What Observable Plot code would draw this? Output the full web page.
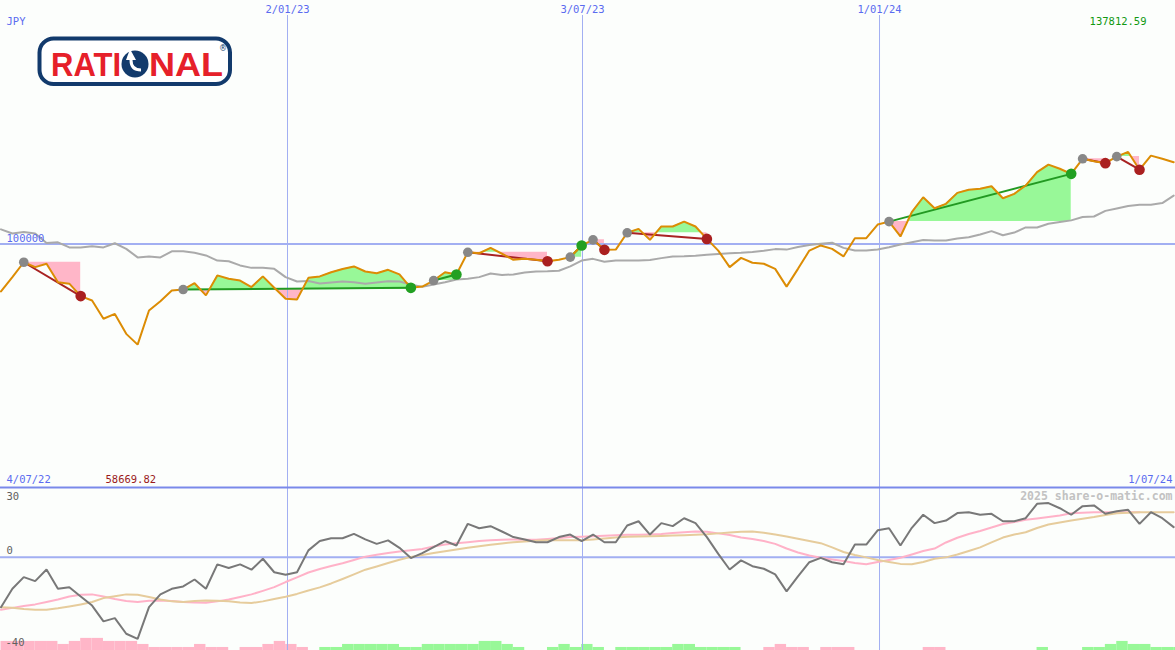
<!DOCTYPE html>
<html><head><meta charset="utf-8">
<script src="https://cdn.jsdelivr.net/npm/d3@7"></script>
<script src="https://cdn.jsdelivr.net/npm/@observablehq/plot@0.6"></script>
<style>
html,body{margin:0;padding:0;background:#fcfefc;}
#wrap{position:relative;width:1175px;height:650px;overflow:hidden;background:#fcfefc;}
#wrap svg{display:block}
</style></head><body><div id="wrap"></div>
<script>
// ---- data (weekly points, index 0..103) ----
const currency = "JPY";
const baseValue = 100000;
const maxLabel = "137812.59";
const minLabel = "58669.82";
const startLabel = "4/07/22";
const endLabel = "1/07/24";
const tickLabels = ["2/01/23", "3/07/23", "1/01/24"];
const tickPos = [25.165, 51.076, 77.163];
const panelTicks = [30, 0, -40];
const watermark = "2025 share-o-matic.com";

const price = [80500,86400,92500,90500,91900,84300,83700,78600,76800,69300,
71300,63100,58669.82,72700,76500,80900,81300,83900,78900,87100,
85700,85000,82300,86700,82000,77500,77200,86100,86700,88400,
89700,90800,88700,88000,89400,87500,82000,82500,85000,88400,
87500,96600,96200,98400,96000,93500,93900,93500,92900,93500,
94600,99400,101700,97600,97700,104600,106200,101700,107200,107200,
109200,107200,102100,97300,90500,94300,92300,91900,89800,82500,
89800,97300,99400,98000,94900,102400,102400,108000,109200,103100,
113100,119200,114700,116500,121000,122300,122700,123700,118800,120600,
124000,129500,132600,130900,128800,135000,134000,133200,135900,137812.59,
130500,136300,135000,133600];

const bench = [106000,104300,104900,104300,100400,100700,98600,98600,99100,98600,
100300,98000,94500,94900,94500,97000,97000,96400,95300,93200,
92900,91200,90200,90200,89800,86400,84600,84800,83800,84200,
84600,84300,83700,84200,84700,84600,83400,82400,83400,84300,
85400,85700,86400,87900,87300,87500,88300,88700,88800,89000,
90800,93200,93900,92700,93200,93200,93200,93400,94200,94900,
95000,95200,95600,95900,96200,96400,96700,97200,97900,97700,
98800,99600,100100,100500,98400,97300,97300,97700,98700,99800,
100700,101600,101400,101400,102300,102800,103900,105300,103600,104700,
106800,106800,108300,109000,109700,111100,111300,113600,114600,115600,
116100,116100,116800,119900];

const tradeEntry = [2,16,38,41,50,52,55,78,95,98];
const tradeExit  = [7,36,40,48,51,53,62,94,97,100];

const rel = [-21.4,-13.5,-8.5,-10.2,-5.2,-13.5,-12.8,-16.8,-20.7,-27.5,
-26.1,-32.8,-35.0,-21.4,-15.9,-13.5,-12.5,-9.5,-13.5,-3.0,
-4.6,-3.0,-5.3,-0.6,-6.4,-7.5,-6.4,3.0,7.0,8.2,
8.2,10.1,7.7,5.8,7.3,4.1,-0.3,1.8,4.4,7.0,
5.1,14.4,12.5,13.4,11.1,8.7,7.7,6.5,6.5,8.7,
9.8,7.0,9.8,6.5,6.5,13.7,15.5,9.8,14.7,13.4,
16.8,14.7,8.7,1.5,-5.2,-1.3,-3.8,-4.9,-7.3,-14.6,
-8.2,-2.1,-0.2,-2.1,-3.0,5.5,5.5,11.6,12.5,5.1,
12.7,18.3,14.7,15.8,19.0,19.4,18.3,18.7,15.5,15.5,
16.8,23.0,23.3,21.1,18.3,22.0,22.3,18.7,19.8,20.4,
14.4,19.4,16.8,13.0];

const maFast = [-22.5,-21.7,-20.9,-20.2,-19.2,-18.1,-16.8,-16.1,-15.9,-16.8,
-17.9,-18.7,-19.2,-18.6,-18.5,-18.7,-19.2,-19.4,-19.5,-18.9,
-18.1,-17.0,-15.9,-14.4,-12.8,-10.6,-8.6,-6.5,-5.0,-3.7,
-2.5,-1.1,0.3,1.1,1.9,2.5,3.1,3.6,4.7,5.5,
6.1,6.5,7.0,7.3,7.6,7.7,7.6,7.6,7.9,8.3,
8.7,8.9,9.1,9.3,9.5,9.7,9.7,9.8,10.0,10.5,
10.8,11.1,11.0,10.3,9.6,8.5,7.9,7.0,5.8,3.8,
2.1,0.8,-0.2,-0.9,-1.6,-2.4,-3.0,-2.0,-1.1,-0.2,
1.2,2.7,3.8,6.4,8.4,10.0,11.3,12.8,14.3,15.2,
16.1,16.7,17.3,18.0,18.9,19.2,19.4,19.4,19.4,19.4,
19.4];

const maSlow = [-21.4,-21.6,-22.2,-22.5,-22.5,-21.9,-21.1,-20.2,-19.2,-17.5,
-16.7,-15.9,-16.1,-17.0,-18.1,-18.9,-19.2,-18.7,-18.5,-18.6,
-18.9,-19.4,-19.6,-18.9,-17.9,-16.9,-15.7,-14.2,-12.9,-11.2,
-9.3,-7.3,-5.3,-3.9,-2.4,-1.0,0.2,1.0,1.9,2.6,
3.4,4.1,4.8,5.4,6.0,6.5,6.8,7.1,7.3,7.3,
7.3,7.3,7.7,8.1,8.5,8.9,9.0,9.1,9.2,9.4,
9.5,9.7,9.9,10.3,10.7,11.0,11.1,10.6,9.8,9.0,
8.0,7.0,6.1,4.3,2.3,1.0,0.0,-1.1,-2.0,-2.8,
-3.0,-2.0,-0.6,0.0,1.2,2.7,4.3,6.4,8.5,9.8,
10.8,12.6,14.1,15.0,15.8,16.6,17.3,18.2,18.9,19.2,
19.4,19.4,19.4,19.4];

const hist = [-3.9,-3.9,-3.9,-3.9,-3.9,-2.6,-3.9,-5.2,-5.2,-3.9,
-3.9,-3.9,-2.6,-1.3,-1.3,-1.3,-1.3,-2.6,-1.3,-1.3,
0,-1.3,-1.3,-2.6,-3.9,-2.6,-1.3,0,1.3,1.3,
2.6,2.6,2.6,2.6,2.6,1.3,1.3,2.6,2.6,2.6,
2.6,2.6,3.9,3.9,2.6,1.3,0,0,1.3,2.6,
1.3,2.6,1.3,0,1.3,1.3,1.3,1.3,1.3,2.6,
2.6,1.3,1.3,1.3,1.3,0,0,-1.3,-2.6,-1.3,
-1.3,0,-1.3,-1.3,-1.3,0,0,0,0,0,
0,-1.3,-1.3,0,0,0,0,0,0,0,
0,1.3,0,0,0,1.3,1.3,2.6,3.9,2.6,
2.6,1.3,1.3,1.3];

// ---- derived geometry ----
const W = 1175, H1 = 487, H2 = 163;
const xDomain = [-0.044, 103.16];
const mono = "DejaVu Sans Mono, monospace";
const blueTxt = "#5a6bf0";
const gridBlue = "#a2aff2";
const pinkFill = "#ffb6c8", greenFill = "#98f898";

const fillPos = [], fillNeg = [];
tradeEntry.forEach((a, t) => {
  const b = tradeExit[t], base = price[a];
  for (let i = a; i <= b; i++) {
    const v = price[i];
    fillPos.push({t, x: i, base, top: Math.max(v, base)});
    fillNeg.push({t, x: i, base, top: Math.min(v, base)});
    if (i < b) {
      const w = price[i + 1];
      if ((v - base) * (w - base) < 0) {
        const xc = i + (base - v) / (w - v);
        fillPos.push({t, x: xc, base, top: base});
        fillNeg.push({t, x: xc, base, top: base});
      }
    }
  }
});
const trades = d3.range(tradeEntry.length);
const gain = t => price[tradeExit[t]] > price[tradeEntry[t]];
const idx = d3.range(price.length);

const main = Plot.plot({
  width: W, height: H1, margin: 0,
  x: {domain: xDomain, axis: null},
  y: {domain: [0, 200000], axis: null},
  style: {background: "#fcfefc"},
  marks: [
    Plot.areaY(fillPos, {x: "x", y1: "base", y2: "top", z: "t", fill: greenFill, curve: "linear"}),
    Plot.areaY(fillNeg, {x: "x", y1: "base", y2: "top", z: "t", fill: pinkFill, curve: "linear"}),
    Plot.ruleX(tickPos, {stroke: gridBlue, strokeWidth: 1, insetTop: 15}),
    Plot.ruleY([baseValue], {stroke: gridBlue, strokeWidth: 2}),
    Plot.line(idx, {x: i => i, y: i => bench[i], stroke: "#aaaaaa", strokeWidth: 2, strokeLinejoin: "miter"}),
    Plot.link(trades, {x1: t => tradeEntry[t], y1: t => price[tradeEntry[t]], x2: t => tradeExit[t], y2: t => price[tradeExit[t]],
      stroke: t => gain(t) ? "#229a22" : "#a82222", strokeWidth: 2}),
    Plot.line(idx, {x: i => i, y: i => price[i], stroke: "#dc8c04", strokeWidth: 2, strokeLinejoin: "miter"}),
    Plot.dot(trades, {x: t => tradeEntry[t], y: t => price[tradeEntry[t]], r: 4.8, fill: "#888888"}),
    Plot.dot(trades, {x: t => tradeExit[t], y: t => price[tradeExit[t]], r: 5.3, fill: t => gain(t) ? "#22a022" : "#aa2020"}),
    Plot.text(tickPos, {x: d => d, text: (d, i) => tickLabels[i], frameAnchor: "top", lineAnchor: "middle", dy: 9,
      fontFamily: mono, fontSize: 10.5, fill: blueTxt}),
    Plot.text([currency], {frameAnchor: "top-left", text: d => d, dx: 6, dy: 21, lineAnchor: "middle", textAnchor: "start",
      fontFamily: mono, fontSize: 10.5, fill: blueTxt}),
    Plot.text([maxLabel], {frameAnchor: "top-right", text: d => d, dx: -29, dy: 21, lineAnchor: "middle", textAnchor: "end",
      fontFamily: mono, fontSize: 10.5, fill: "#119911"}),
    Plot.text([baseValue], {y: d => d, frameAnchor: "left", text: d => String(d), dx: 6, dy: -5.5, lineAnchor: "middle", textAnchor: "start",
      fontFamily: mono, fontSize: 10.5, fill: blueTxt}),
    Plot.text([startLabel], {frameAnchor: "bottom-left", text: d => d, dx: 6, dy: -8, lineAnchor: "middle", textAnchor: "start",
      fontFamily: mono, fontSize: 10.5, fill: blueTxt}),
    Plot.text([minLabel], {frameAnchor: "bottom-left", text: d => d, dx: 105, dy: -8, lineAnchor: "middle", textAnchor: "start",
      fontFamily: mono, fontSize: 10.5, fill: "#9a1a1a"}),
    Plot.text([endLabel], {frameAnchor: "bottom-right", text: d => d, dx: -3, dy: -8, lineAnchor: "middle", textAnchor: "end",
      fontFamily: mono, fontSize: 10.5, fill: blueTxt})
  ]
});

const bottom = Plot.plot({
  width: W, height: H2, margin: 0,
  x: {domain: xDomain, axis: null},
  y: {domain: [-40, 30], axis: null},
  style: {background: "#fcfefc", overflow: "visible"},
  marks: [
    Plot.rect(idx.filter(i => hist[i] !== 0), {x1: i => i, x2: i => i + 1, y1: () => -40, y2: i => -40 + Math.abs(hist[i]),
      fill: i => hist[i] < 0 ? pinkFill : greenFill}),
    Plot.ruleX(tickPos, {stroke: gridBlue, strokeWidth: 1}),
    Plot.ruleY([0], {stroke: gridBlue, strokeWidth: 2}),
    Plot.ruleY([30], {stroke: "#7a89ea", strokeWidth: 2}),
    Plot.line(maFast, {x: (d, i) => i, y: d => d, stroke: "#ffb2c8", strokeWidth: 2}),
    Plot.line(maSlow, {x: (d, i) => i, y: d => d, stroke: "#e6cc9c", strokeWidth: 2}),
    Plot.line(rel, {x: (d, i) => i, y: d => d, stroke: "#787878", strokeWidth: 2, strokeLinejoin: "miter"}),
    Plot.text([panelTicks[0]], {y: d => d, frameAnchor: "left", text: d => String(d), dx: 6, dy: 9, lineAnchor: "middle", textAnchor: "start",
      fontFamily: mono, fontSize: 10.5, fill: "#606060"}),
    Plot.text([panelTicks[1]], {y: d => d, frameAnchor: "left", text: d => String(d), dx: 6, dy: -7, lineAnchor: "middle", textAnchor: "start",
      fontFamily: mono, fontSize: 10.5, fill: "#606060"}),
    Plot.text([panelTicks[2]], {y: d => d, frameAnchor: "left", text: d => String(d), dx: 5, dy: -8, lineAnchor: "middle", textAnchor: "start",
      fontFamily: mono, fontSize: 10.5, fill: "#606060"}),
    Plot.text([watermark], {frameAnchor: "top-right", text: d => d, dx: -3, dy: 9, lineAnchor: "middle", textAnchor: "end",
      fontFamily: mono, fontSize: 11.5, fontWeight: "bold", fill: "#c2c2c2"})
  ]
});

const wrap = document.getElementById("wrap");
wrap.appendChild(main);
wrap.appendChild(bottom);

// logo (decorative, drawn with d3)
const logo = d3.create("svg").attr("width", 260).attr("height", 100)
  .style("position", "absolute").style("left", "0").style("top", "0");
logo.append("rect").attr("x", 39.5).attr("y", 38.5).attr("width", 190.5).attr("height", 45.5).attr("rx", 14)
  .attr("fill", "#ffffff").attr("stroke", "#123a6c").attr("stroke-width", 4);
const lf = "Liberation Sans Narrow, Liberation Sans, Arial, sans-serif";
logo.append("text").attr("x", 51).attr("y", 76).text("RATI")
  .attr("font-family", lf).attr("font-weight", "bold").attr("font-size", 34).attr("fill", "#e6202a")
  .attr("textLength", 70).attr("lengthAdjust", "spacingAndGlyphs");
logo.append("circle").attr("cx", 135).attr("cy", 64).attr("r", 13.5).attr("fill", "#123a6c");
logo.append("path").attr("d", "M126 60 L130 49 L136 60 Z").attr("fill", "#ffffff");
logo.append("path").attr("d", "M131 60 Q131 70 141 70").attr("fill", "none").attr("stroke", "#ffffff").attr("stroke-width", 3);
logo.append("text").attr("x", 149).attr("y", 76).text("NAL")
  .attr("font-family", lf).attr("font-weight", "bold").attr("font-size", 34).attr("fill", "#e6202a")
  .attr("textLength", 74).attr("lengthAdjust", "spacingAndGlyphs");
logo.append("text").attr("x", 219).attr("y", 51).text("®")
  .attr("font-family", "DejaVu Sans, sans-serif").attr("font-size", 8).attr("fill", "#123a6c");
wrap.appendChild(logo.node());
</script>
</body></html>
